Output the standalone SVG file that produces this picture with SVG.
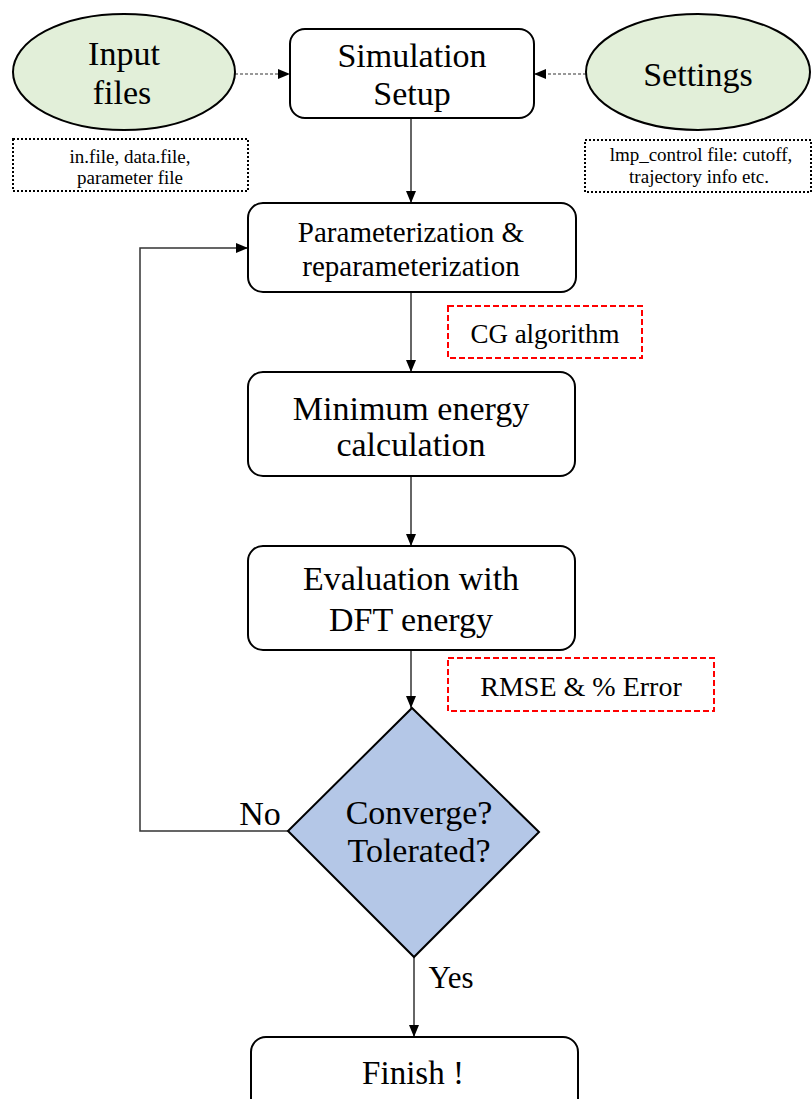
<svg xmlns="http://www.w3.org/2000/svg" width="812" height="1099" viewBox="0 0 812 1099">
<defs>
<marker id="arr" viewBox="0 0 12 10" refX="12" refY="5" markerWidth="12" markerHeight="10" markerUnits="userSpaceOnUse" orient="auto">
<path d="M0,0 L12,5 L0,10 Z" fill="#000"/>
</marker>
</defs>
<style>
text{font-family:"Liberation Serif","Times New Roman",serif;fill:#000;text-anchor:middle}
.box{fill:#fff;stroke:#000;stroke-width:2}
.ell{fill:#e2efd9;stroke:#000;stroke-width:2}
.dot{fill:#fff;stroke:#000;stroke-width:2;stroke-dasharray:2,2}
.red{fill:#fff;stroke:#ff0000;stroke-width:2;stroke-dasharray:6,3}
.dia{fill:#b4c7e7;stroke:#000;stroke-width:2}
.con{fill:none;stroke:#333;stroke-width:1.5}
.dcon{fill:none;stroke:#333;stroke-width:1.2;stroke-dasharray:3,2}
.big{font-size:34px}
.mid{font-size:29px}
.sm{font-size:19px}
</style>
<rect width="812" height="1099" fill="#fff"/>
<g id="connectors">
<line class="dcon" x1="235" y1="74" x2="290" y2="74" marker-end="url(#arr)"/>
<line class="dcon" x1="586" y1="74" x2="534" y2="74" marker-end="url(#arr)"/>
<line class="con" x1="411" y1="118" x2="411" y2="203" marker-end="url(#arr)"/>
<line class="con" x1="411" y1="292" x2="411" y2="372" marker-end="url(#arr)"/>
<line class="con" x1="411" y1="476" x2="411" y2="546" marker-end="url(#arr)"/>
<line class="con" x1="411" y1="650" x2="411" y2="708" marker-end="url(#arr)"/>
<polyline class="con" points="288,831 140,831 140,248 248,248" marker-end="url(#arr)"/>
<line class="con" x1="414" y1="957" x2="414" y2="1037" marker-end="url(#arr)"/>
<text class="big" x="260" y="825" font-size="32">No</text>
<text class="big" x="451" y="988" style="font-size:31px">Yes</text>
</g>
<g id="input-files">
<ellipse class="ell" cx="124" cy="72" rx="111" ry="58"/>
<text class="big" x="124" y="65">Input</text>
<text class="big" x="122" y="104">files</text>
</g>
<g id="input-note">
<rect class="dot" x="13" y="139" width="235" height="52"/>
<text class="sm" x="130" y="163">in.file, data.file,</text>
<text class="sm" x="130" y="184">parameter file</text>
</g>
<g id="settings">
<ellipse class="ell" cx="698" cy="72" rx="112" ry="58"/>
<text class="big" x="698" y="86">Settings</text>
</g>
<g id="settings-note">
<rect class="dot" x="585" y="140" width="226" height="52"/>
<text class="sm" x="701" y="161">lmp_control file: cutoff,</text>
<text class="sm" x="699" y="183">trajectory info etc.</text>
</g>
<g id="simulation-setup">
<rect class="box" x="290" y="29" width="244" height="89" rx="15"/>
<text class="big" x="412" y="67">Simulation</text>
<text class="big" x="412" y="105">Setup</text>
</g>
<g id="parameterization">
<rect class="box" x="248" y="203" width="328" height="89" rx="15"/>
<text class="mid" x="411" y="242">Parameterization &amp;</text>
<text class="mid" x="411" y="276">reparameterization</text>
</g>
<g id="cg-algorithm">
<rect class="red" x="448" y="306" width="194" height="52"/>
<text x="545" y="343" style="font-size:27px">CG algorithm</text>
</g>
<g id="minimum-energy">
<rect class="box" x="248" y="372" width="327" height="104" rx="15"/>
<text class="big" x="411" y="420">Minimum energy</text>
<text class="big" x="411" y="456">calculation</text>
</g>
<g id="evaluation">
<rect class="box" x="248" y="546" width="327" height="104" rx="15"/>
<text class="big" x="411" y="590">Evaluation with</text>
<text class="big" x="411" y="631">DFT energy</text>
</g>
<g id="rmse">
<rect class="red" x="448" y="658" width="266" height="53"/>
<text x="581" y="696" style="font-size:28px">RMSE &amp; % Error</text>
</g>
<g id="converge">
<polygon class="dia" points="412,708 539,832 414,957 288,831"/>
<text class="big" x="419" y="824">Converge?</text>
<text class="big" x="419" y="862">Tolerated?</text>
</g>
<g id="finish">
<rect class="box" x="251" y="1037" width="327" height="80" rx="15"/>
<text class="big" x="413" y="1084" style="font-size:33px">Finish !</text>
</g>
</svg>
